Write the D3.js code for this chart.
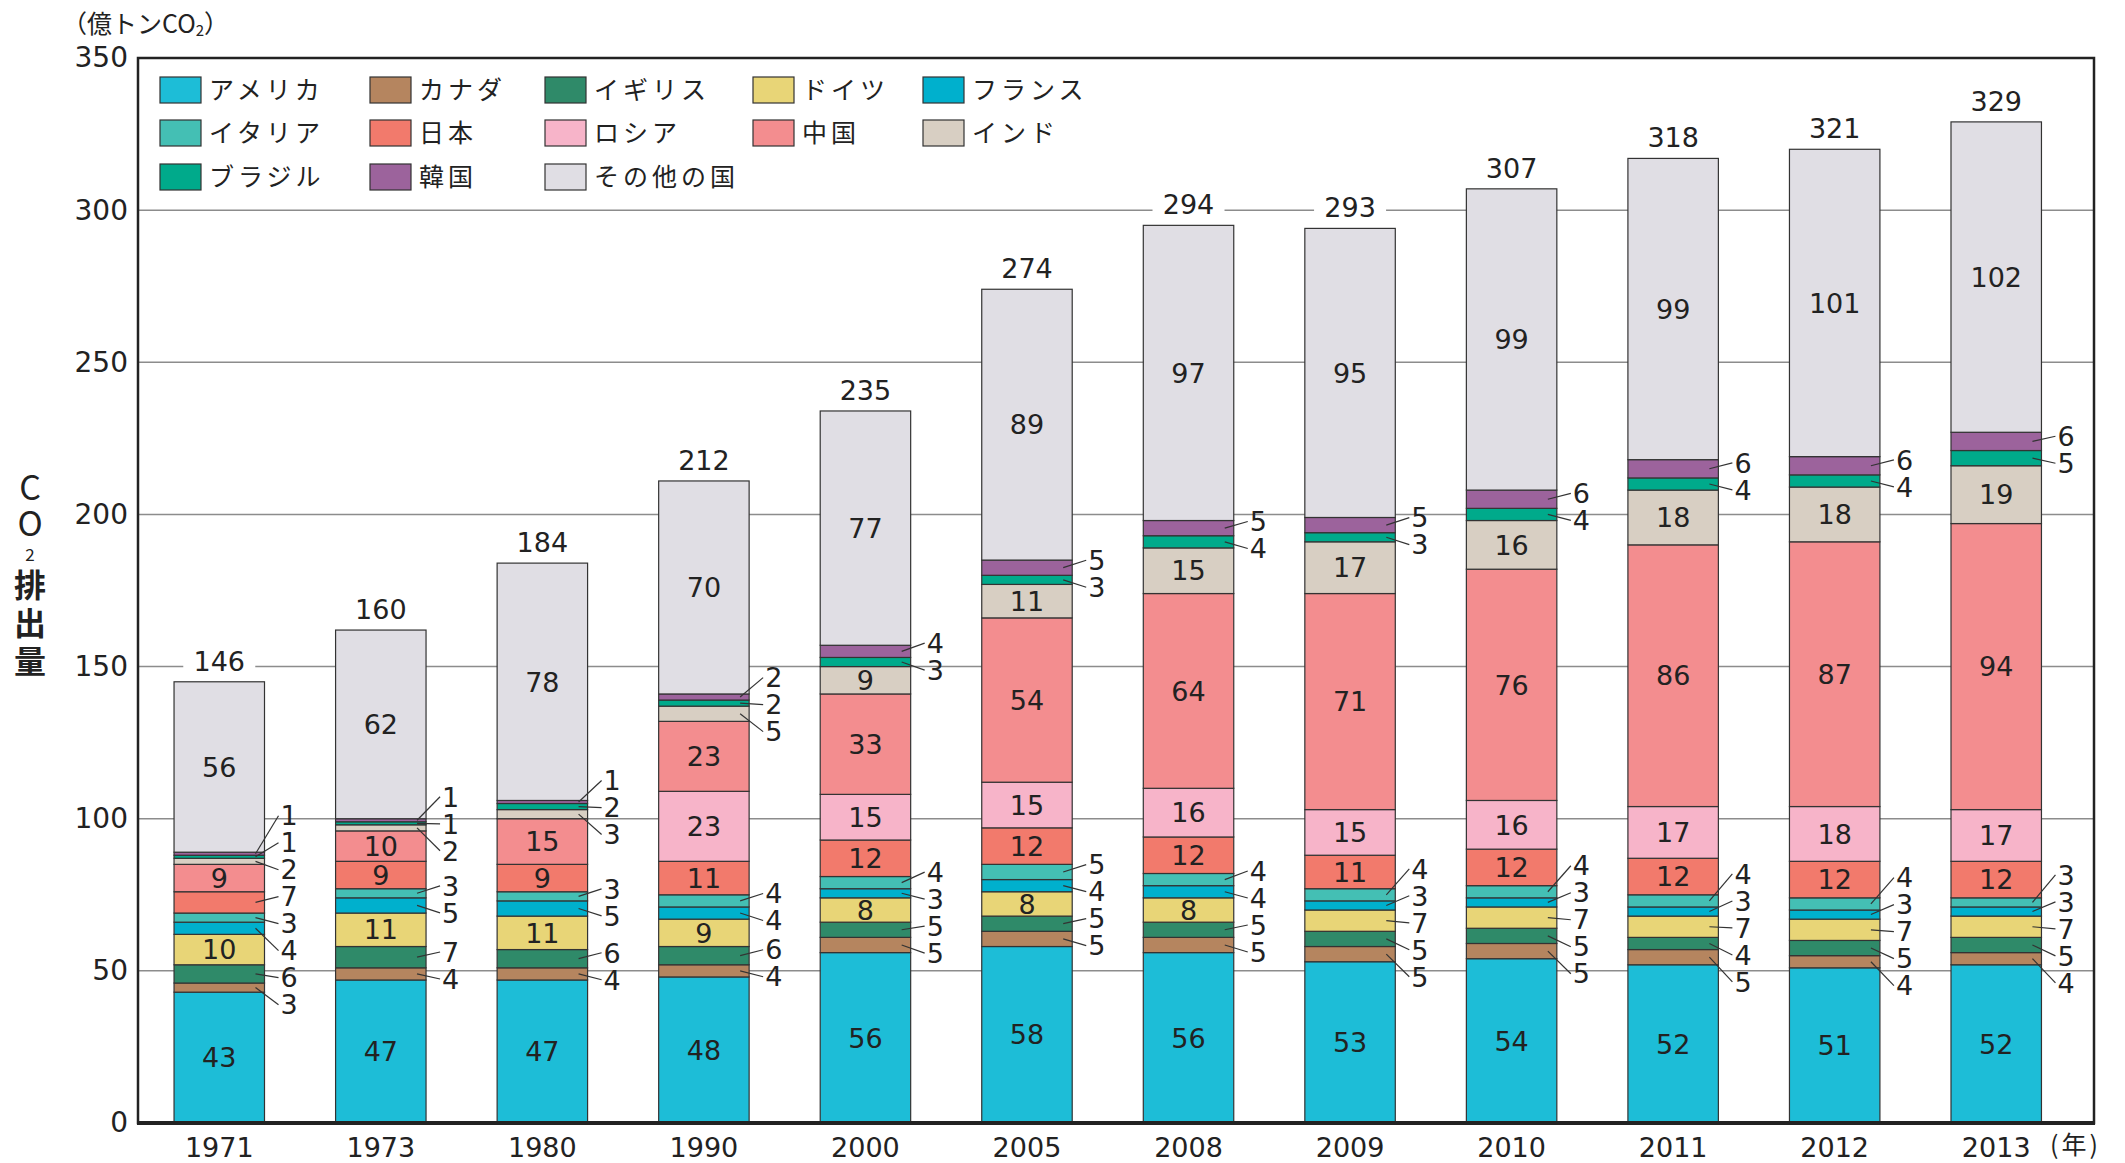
<!DOCTYPE html>
<html>
<head>
<meta charset="utf-8">
<script src="https://cdn.jsdelivr.net/npm/d3@7"></script>
<style>
    body { margin: 0; background: #fff; }
    svg text { font-family: "DejaVu Sans", "Liberation Sans", sans-serif; fill: #222; }
    svg text.jp { font-family: "Noto Sans CJK JP", sans-serif; }
</style>
</head>
<body>
<div id="chart"></div>
<script>
// years on the x axis
const years = ["1971", "1973", "1980", "1990", "2000", "2005", "2008", "2009", "2010", "2011", "2012", "2013"];
// stack order, bottom to top
const countries = ["アメリカ", "カナダ", "イギリス", "ドイツ", "フランス", "イタリア", "日本", "ロシア", "中国", "インド", "ブラジル", "韓国", "その他の国"];

// CO2 emissions (億トン) per country
const usa     = [43, 47, 47, 48, 56, 58, 56, 53, 54, 52, 51, 52];
const canada  = [3, 4, 4, 4, 5, 5, 5, 5, 5, 5, 4, 4];
const uk      = [6, 7, 6, 6, 5, 5, 5, 5, 5, 4, 5, 5];
const germany = [10, 11, 11, 9, 8, 8, 8, 7, 7, 7, 7, 7];
const france  = [4, 5, 5, 4, 3, 4, 4, 3, 3, 3, 3, 3];
const italy   = [3, 3, 3, 4, 4, 5, 4, 4, 4, 4, 4, 3];
const japan   = [7, 9, 9, 11, 12, 12, 12, 11, 12, 12, 12, 12];
const russia  = [0, 0, 0, 23, 15, 15, 16, 15, 16, 17, 18, 17];
const china   = [9, 10, 15, 23, 33, 54, 64, 71, 76, 86, 87, 94];
const india   = [2, 2, 3, 5, 9, 11, 15, 17, 16, 18, 18, 19];
const brazil  = [1, 1, 2, 2, 3, 3, 4, 3, 4, 4, 4, 5];
const korea   = [1, 1, 1, 2, 4, 5, 5, 5, 6, 6, 6, 6];
const others  = [56, 62, 78, 70, 77, 89, 97, 95, 99, 99, 101, 102];
// totals as printed above each bar
const totals  = [146, 160, 184, 212, 235, 274, 294, 293, 307, 318, 321, 329];

const yTicks = [0, 50, 100, 150, 200, 250, 300, 350];

const series = [usa, canada, uk, germany, france, italy, japan, russia, china, india, brazil, korea, others];
const colors = ["#1dbdd7", "#b5855f", "#2f8a69", "#e8d577", "#00b0cd", "#44bfb4", "#f27a6c",
                "#f7b4c9", "#f38d8f", "#d8cfc3", "#00aa8b", "#9c639c", "#e0dee4"];

const width = 2125;
const height = 1163;
const plotL = 138, plotR = 2094, plotT = 58, plotB = 1123;

const svg = d3.select('#chart').append('svg')
    .attr('width', width)
    .attr('height', height);

const x = d3.scaleBand()
    .domain(years)
    .range([138.5, 2077])
    .paddingInner(0.44)
    .paddingOuter(0.22);

const y = d3.scaleLinear()
    .domain([0, 350])
    .range([plotB, plotT]);

// rows for d3.stack
const table = years.map((yr, i) => {
    const row = { year: yr };
    countries.forEach((c, j) => row[c] = series[j][i]);
    return row;
});
const stacked = d3.stack().keys(countries)(table);

// gridlines
svg.append("g")
    .selectAll("line")
    .data(yTicks.filter(t => t > 0 && t < 350))
    .join("line")
    .attr("x1", plotL).attr("x2", plotR)
    .attr("y1", d => y(d)).attr("y2", d => y(d))
    .attr("stroke", "#8c8c8c")
    .attr("stroke-width", 1.5);

// bars
const layers = svg.append("g")
    .selectAll("g")
    .data(stacked)
    .join("g")
    .attr("fill", (d, i) => colors[i]);

layers.selectAll("rect")
    .data(d => d.filter(p => p[1] - p[0] > 0))
    .join("rect")
    .attr("x", d => x(d.data.year))
    .attr("width", x.bandwidth())
    .attr("y", d => y(d[1]))
    .attr("height", d => y(d[0]) - y(d[1]))
    .attr("stroke", "#333")
    .attr("stroke-width", 1.2);

// labels inside the bigger segments, callouts for the small ones
const insideData = [];
const outsideData = [];
years.forEach((yr, i) => {
    const items = [];
    stacked.forEach(layer => {
        const p = layer[i];
        const v = p[1] - p[0];
        if (v <= 0) return;
        const cy = y((p[0] + p[1]) / 2);
        if (v >= 8) insideData.push({ yr, v, cy });
        else items.push({ yr, v, cy });
    });
    // spread the small ones apart, cluster by cluster
    const gap = 27;
    items.sort((a, b) => a.cy - b.cy);
    let clusters = items.map(it => ({ items: [it], center: it.cy }));
    let merged = true;
    while (merged) {
        merged = false;
        for (let k = 0; k < clusters.length - 1; k++) {
            const a = clusters[k], b = clusters[k + 1];
            const aEnd = a.center + (a.items.length - 1) * gap / 2;
            const bStart = b.center - (b.items.length - 1) * gap / 2;
            if (bStart - aEnd < gap) {
                const all = a.items.concat(b.items);
                clusters.splice(k, 2, { items: all, center: d3.mean(all, d => d.cy) });
                merged = true;
                break;
            }
        }
    }
    clusters.forEach(c => c.items.forEach((it, k) => {
        it.ly = c.center + (k - (c.items.length - 1) / 2) * gap;
        outsideData.push(it);
    }));
});

svg.append("g")
    .selectAll("text")
    .data(insideData)
    .join("text")
    .attr("x", d => x(d.yr) + x.bandwidth() / 2)
    .attr("y", d => d.cy)
    .attr("dy", "0.36em")
    .attr("text-anchor", "middle")
    .style("font-size", "27px")
    .text(d => d.v);

const callouts = svg.append("g");
callouts.selectAll("line")
    .data(outsideData)
    .join("line")
    .attr("x1", d => x(d.yr) + x.bandwidth() - 9)
    .attr("y1", d => d.cy)
    .attr("x2", d => x(d.yr) + x.bandwidth() + 14)
    .attr("y2", d => d.ly)
    .attr("stroke", "#333")
    .attr("stroke-width", 1.2);
callouts.selectAll("text")
    .data(outsideData)
    .join("text")
    .attr("x", d => x(d.yr) + x.bandwidth() + 16)
    .attr("y", d => d.ly)
    .attr("dy", "0.36em")
    .style("font-size", "27px")
    .text(d => d.v);

// totals above the bars, on a white patch that hides the gridline
const sums = years.map((yr, i) => d3.sum(series, s => s[i]));
const totalG = svg.append("g")
    .selectAll("g")
    .data(years)
    .join("g")
    .attr("transform", (d, i) => `translate(${x(d) + x.bandwidth() / 2},${y(sums[i]) - 21})`);
totalG.append("rect")
    .attr("x", -36).attr("y", -16)
    .attr("width", 72).attr("height", 32)
    .attr("fill", "#fff");
totalG.append("text")
    .attr("text-anchor", "middle")
    .attr("dy", "0.36em")
    .style("font-size", "27px")
    .text((d, i) => totals[i]);

// frame
svg.append("rect")
    .attr("x", plotL).attr("y", plotT)
    .attr("width", plotR - plotL).attr("height", plotB - plotT)
    .attr("fill", "none")
    .attr("stroke", "#222")
    .attr("stroke-width", 2.5);
svg.append("line")
    .attr("x1", plotL - 1).attr("x2", plotR + 1)
    .attr("y1", plotB).attr("y2", plotB)
    .attr("stroke", "#222")
    .attr("stroke-width", 4);

// axes
const yAxis = svg.append("g")
    .attr("transform", `translate(${plotL},0)`)
    .call(d3.axisLeft(y).tickValues(yTicks).tickSize(0).tickPadding(10));
yAxis.select(".domain").remove();
yAxis.selectAll("text")
    .style("font-size", "28px")
    .style("font-family", "'DejaVu Sans', sans-serif")
    .attr("fill", "#222");

const xAxis = svg.append("g")
    .attr("transform", `translate(0,${plotB})`)
    .call(d3.axisBottom(x).tickSize(0).tickPadding(15));
xAxis.select(".domain").remove();
xAxis.selectAll("text")
    .style("font-size", "27px")
    .style("font-family", "'DejaVu Sans', sans-serif")
    .attr("fill", "#222");

svg.append("text")
    .attr("class", "jp")
    .attr("x", 2050).attr("y", 1145)
    .attr("dy", "0.36em")
    .style("font-size", "25px")
    .style("letter-spacing", "3px")
    .text("(年)");

// unit label
const unit = svg.append("text")
    .attr("class", "jp")
    .attr("x", 62).attr("y", 24)
    .attr("dy", "0.36em")
    .style("font-size", "25px");
unit.append("tspan").text("（億トンCO");
unit.append("tspan").attr("dy", "3").style("font-size", "15px").text("2");
unit.append("tspan").attr("dy", "-3").text("）");

// vertical axis title, one upright column of characters
const yTitle = [
    { t: "C", y: 470, size: 34 },
    { t: "O", y: 506, size: 34 },
    { t: "2", y: 546, size: 17 },
    { t: "排", y: 569, size: 32 },
    { t: "出", y: 607, size: 32 },
    { t: "量", y: 645, size: 32 }
];
svg.append("text")
    .attr("class", "jp")
    .attr("x", 30)
    .style("writing-mode", "vertical-rl")
    .style("text-orientation", "upright")
    .style("font-weight", "bold")
    .selectAll("tspan")
    .data(yTitle)
    .join("tspan")
    .attr("x", 30)
    .attr("y", d => d.y)
    .style("font-size", d => d.size + "px")
    .style("font-weight", d => /[CO2]/.test(d.t) ? "normal" : "bold")
    .text(d => d.t);

// legend, 5 columns
const legendCols = [160, 370, 545, 753, 923];
const legendRows = [77, 120, 164];
const legend = svg.append("g")
    .selectAll("g")
    .data(countries)
    .join("g")
    .attr("transform", (d, i) => `translate(${legendCols[i % 5]},${legendRows[Math.floor(i / 5)]})`);
legend.append("rect")
    .attr("width", 41).attr("height", 26)
    .attr("fill", (d, i) => colors[i])
    .attr("stroke", "#333")
    .attr("stroke-width", 1.2);
legend.append("text")
    .attr("class", "jp")
    .attr("x", 49).attr("y", 13)
    .attr("dy", "0.36em")
    .style("font-size", "25px")
    .style("letter-spacing", "4px")
    .text(d => d);
</script>
</body>
</html>
